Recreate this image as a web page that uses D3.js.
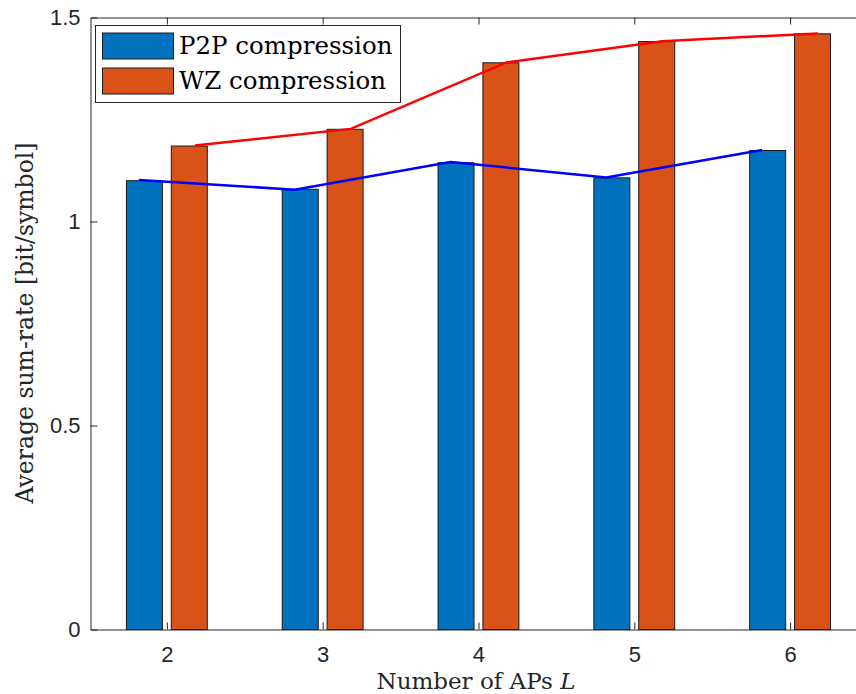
<!DOCTYPE html>
<html>
<head>
<meta charset="utf-8">
<script src="https://cdn.jsdelivr.net/npm/d3@7"></script>
<style>
  body { margin: 0; background: #fff; }
  svg { display: block; }
</style>
</head>
<body>
<svg width="856" height="694"></svg>
<script>
// data
const categories = [2, 3, 4, 5, 6];
const p2pBars = [1.100, 1.079, 1.144, 1.107, 1.174];
const wzBars = [1.185, 1.226, 1.389, 1.441, 1.460];
const p2pLine = [1.102, 1.078, 1.146, 1.108, 1.175];
const wzLine = [1.186, 1.227, 1.390, 1.442, 1.461];
const yTicks = [0, 0.5, 1, 1.5];
const seriesNames = ["P2P compression", "WZ compression"];

const svg = d3.select("svg");
const axisColor = "#262626";
const sansFont = "Liberation Sans, Arial, sans-serif";
const serifFont = "DejaVu Serif, serif";

// plot area runs off the right edge, like the reference
const plotLeft = 90.5, plotRight = 868, plotTop = 17.5, plotBottom = 629.5;

const xScale = d3.scaleLinear().domain([1.51, 6.5]).range([plotLeft, plotRight]);
const yScale = d3.scaleLinear().domain([0, 1.5]).range([plotBottom, plotTop]);

const barW = 0.231, barOff = 0.144, lineOff = 0.18;

const g = svg.append("g");

// bars
const drawBars = (vals, off, color) => {
	g.append("g").selectAll("rect").data(vals)
		.enter().append("rect")
			.attr("x", (d, i) => xScale(categories[i] + off - barW / 2))
			.attr("width", xScale(barW) - xScale(0))
			.attr("y", d => yScale(d))
			.attr("height", d => yScale(0) - yScale(d))
			.attr("fill", color)
			.attr("stroke", "#1a1a1a")
			.attr("stroke-width", 1);
};
drawBars(p2pBars, -barOff, "#0072BD");
drawBars(wzBars, barOff, "#D95319");

// lines
const drawLine = (vals, off, color) => {
	const line = d3.line()
		.x((d, i) => xScale(categories[i] + off))
		.y(d => yScale(d));
	g.append("path").datum(vals)
		.attr("d", line)
		.attr("fill", "none")
		.attr("stroke", color)
		.attr("stroke-width", 2.5);
};
drawLine(p2pLine, -lineOff, "#0000FF");
drawLine(wzLine, lineOff, "#FF0000");

// axes (ticks inward, MATLAB style)
const tickLen = 7;
const xAxisB = d3.axisBottom(xScale).tickValues(categories).tickSizeInner(-tickLen).tickSizeOuter(0).tickPadding(17)
	.tickFormat(d3.format("d"));
const xAxisT = d3.axisTop(xScale).tickValues(categories).tickSizeInner(-tickLen).tickSizeOuter(0).tickFormat("");
const yAxisL = d3.axisLeft(yScale).tickValues(yTicks).tickSizeInner(-tickLen).tickSizeOuter(0).tickPadding(10)
	.tickFormat(d3.format(""));

const styleAxis = sel => {
	sel.selectAll("path, line").attr("stroke", axisColor).attr("stroke-width", 1);
	sel.selectAll("text").attr("fill", axisColor).style("font-family", sansFont).style("font-size", "22px");
};

g.append("g").attr("transform", `translate(0,${plotBottom})`).call(xAxisB).call(styleAxis);
g.append("g").attr("transform", `translate(0,${plotTop})`).call(xAxisT).call(styleAxis);
g.append("g").attr("transform", `translate(${plotLeft},0)`).call(yAxisL).call(styleAxis);

// axis titles
svg.append("text")
	.attr("x", 476)
	.attr("y", 689)
	.attr("text-anchor", "middle")
	.style("font-family", serifFont)
	.style("font-size", "23px")
	.attr("fill", axisColor)
	.html('Number of APs <tspan font-style="italic">L</tspan>');

svg.append("text")
	.attr("transform", `translate(33,323) rotate(-90)`)
	.attr("text-anchor", "middle")
	.style("font-family", serifFont)
	.style("font-size", "23.5px")
	.attr("fill", axisColor)
	.text("Average sum-rate [bit/symbol]");

// legend
const legend = svg.append("g");
legend.append("rect")
	.attr("x", 95.5).attr("y", 25.5)
	.attr("width", 305).attr("height", 77)
	.attr("fill", "#fff")
	.attr("stroke", axisColor);
const legColors = ["#0072BD", "#D95319"];
seriesNames.forEach((name, i) => {
	legend.append("rect")
		.attr("x", 102.5).attr("y", 33 + i * 35)
		.attr("width", 71).attr("height", 26)
		.attr("fill", legColors[i])
		.attr("stroke", "#1a1a1a");
	legend.append("text")
		.attr("x", 179).attr("y", 53.5 + i * 35)
		.style("font-family", serifFont)
		.style("font-size", "24.5px")
		.attr("fill", "#000")
		.text(name);
});
</script>
</body>
</html>
